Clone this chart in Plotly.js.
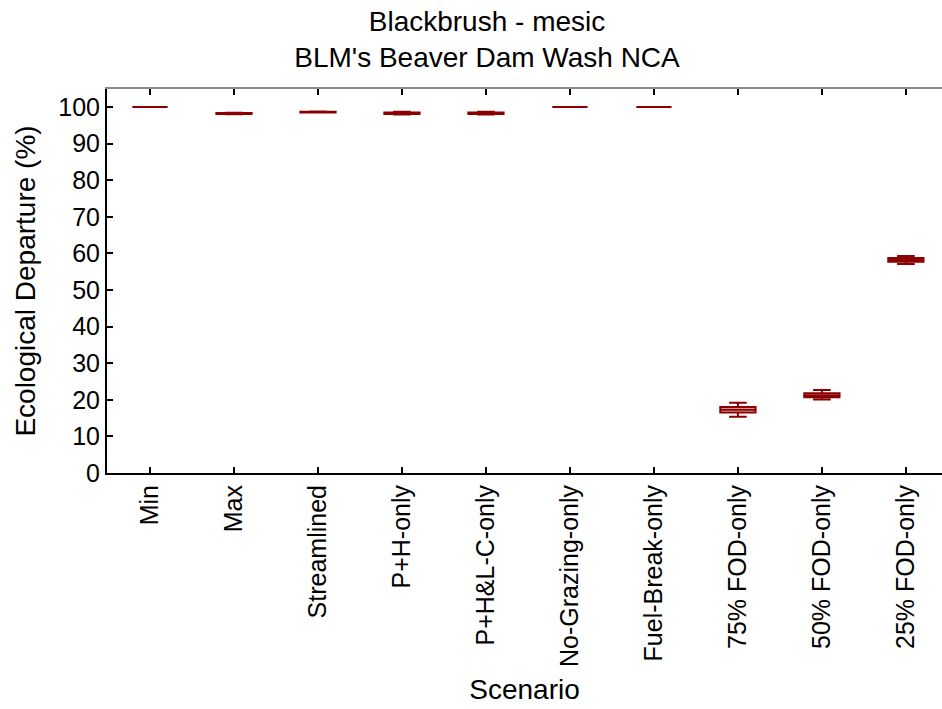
<!DOCTYPE html>
<html>
<head>
<meta charset="utf-8">
<script src="https://cdn.plot.ly/plotly-3.0.1.min.js"></script>
<style>
  html, body { margin: 0; padding: 0; background: #fff; }
  #chart { width: 942px; height: 709px; }
</style>
</head>
<body>
<div id="chart"></div>
<script>
// Scenario categories along the x axis
const scenarios = ['Min', 'Max', 'Streamlined', 'P+H-only', 'P+H&L-C-only',
  'No-Grazing-only', 'Fuel-Break-only', '75% FOD-only', '50% FOD-only', '25% FOD-only'];

// Box statistics of ecological departure (%) per scenario
const lowerWhisker = [100, 98.0, 98.45, 97.9, 97.9, 100, 100, 15.4, 20.1, 57.1];
const q1Values     = [100, 98.1, 98.5, 98.1, 98.1, 100, 100, 16.5, 20.7, 57.7];
const medianValues = [100, 98.2, 98.6, 98.3, 98.3, 100, 100, 17.3, 21.2, 58.2];
const q3Values     = [100, 98.35, 98.7, 98.5, 98.5, 100, 100, 18.0, 21.8, 58.7];
const upperWhisker = [100, 98.4, 98.75, 98.7, 98.7, 100, 100, 19.2, 22.7, 59.3];

const yTicks = [0, 10, 20, 30, 40, 50, 60, 70, 80, 90, 100];

const FONT = 'Liberation Sans, Arial, sans-serif';

const trace = {
  type: 'box',
  x: scenarios,
  q1: q1Values,
  median: medianValues,
  q3: q3Values,
  lowerfence: lowerWhisker,
  upperfence: upperWhisker,
  width: 0.42,
  whiskerwidth: 0.5,
  line: { color: '#8b0000', width: 2 },
  fillcolor: 'rgba(139,0,0,0.24)',
  showlegend: false,
  hoverinfo: 'skip'
};

// Invisible companion trace for the top frame axis
const topFrame = {
  type: 'scatter', mode: 'markers', x: scenarios, y: medianValues,
  xaxis: 'x2', yaxis: 'y', marker: { opacity: 0 }, showlegend: false, hoverinfo: 'skip'
};

const xRange = [-0.512, 9.43];

const layout = {
  width: 942,
  height: 709,
  paper_bgcolor: '#fff',
  plot_bgcolor: '#fff',
  font: { family: FONT, color: '#000', size: 24 },
  margin: { l: 107, r: 0, t: 89, b: 236 },
  title: {
    text: 'Blackbrush - mesic<br>BLM\'s Beaver Dam Wash NCA',
    font: { family: FONT, size: 28, color: '#000' },
    xref: 'container', x: 487 / 942, xanchor: 'center',
    yref: 'container', y: 1 - 31 / 709, yanchor: 'top'
  },
  xaxis: {
    type: 'category',
    range: xRange,
    showline: true, linecolor: '#000', linewidth: 2,
    ticks: 'inside', ticklen: 6, tickwidth: 2, tickcolor: '#000',
    tickangle: -90,
    tickfont: { family: FONT, size: 25, color: '#000' },
    showgrid: false, zeroline: false,
    title: { text: 'Scenario', font: { family: FONT, size: 28, color: '#000' }, standoff: 13 }
  },
  xaxis2: {
    type: 'category',
    overlaying: 'x', side: 'top', matches: 'x',
    range: xRange,
    showline: true, linecolor: '#8a8a8a', linewidth: 2,
    ticks: 'inside', ticklen: 6, tickwidth: 2, tickcolor: '#000',
    showticklabels: false, showgrid: false, zeroline: false
  },
  yaxis: {
    range: [0, 104.9],
    tickvals: yTicks,
    showline: true, linecolor: '#000', linewidth: 2,
    ticks: 'inside', ticklen: 6, tickwidth: 2, tickcolor: '#000',
    tickfont: { family: FONT, size: 25, color: '#000' },
    showgrid: false, zeroline: false,
    title: { text: 'Ecological Departure (%)', font: { family: FONT, size: 28, color: '#000' }, standoff: 14 }
  }
};

Plotly.newPlot('chart', [trace, topFrame], layout, { displayModeBar: false, staticPlot: true });
</script>
</body>
</html>
